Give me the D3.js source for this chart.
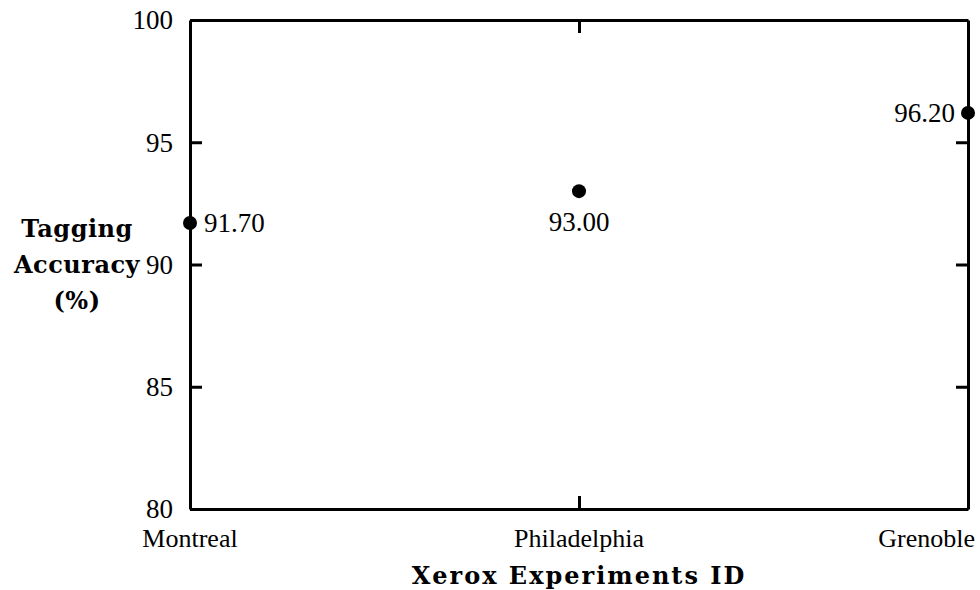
<!DOCTYPE html>
<meta charset="utf-8">
<script src="https://d3js.org/d3.v7.min.js"></script>
<style>
  body { margin: 0; background: #fff; overflow: hidden; }
  text { font-family: "Liberation Serif", serif; fill: #000; }
  .title { font-family: "DejaVu Serif", serif; font-weight: bold; }
</style>
<div id="chart"></div>
<script>

// data
var experiments = ["Montreal", "Philadelphia", "Grenoble"];
var accuracy = [91.70, 93.00, 96.20];
var yTicks = [80, 85, 90, 95, 100];

var width = 980, height = 590;
var margin = {top: 20, right: 12, bottom: 81, left: 190};

var svg = d3.select("#chart")
  .append("svg")
    .attr("width", width)
    .attr("height", height)
    .style("display", "block");

var x = d3.scalePoint()
  .domain(experiments)
  .range([margin.left, width - margin.right]);

var y = d3.scaleLinear()
  .domain([80, 100])
  .range([height - margin.bottom, margin.top]);

//left axis, ticks pointing inward
var yAxisL = svg.append("g")
  .attr("transform", "translate(" + margin.left + ",0)")
  .call(d3.axisLeft(y).tickValues(yTicks).tickSize(-12).tickSizeOuter(0).tickPadding(17)
    .tickFormat(d3.format("d")));
yAxisL.selectAll("text").style("font-size", "27px").attr("dy", "0.33em");

//right axis
svg.append("g")
  .attr("transform", "translate(" + (width - margin.right) + ",0)")
  .call(d3.axisRight(y).tickValues(yTicks).tickSize(-12).tickSizeOuter(0).tickFormat(""));

//top axis, only the middle tick
svg.append("g")
  .attr("transform", "translate(0," + margin.top + ")")
  .call(d3.axisTop(x).tickValues([experiments[1]]).tickSize(-13).tickSizeOuter(0).tickFormat(""));

//bottom axis
svg.append("g")
  .attr("transform", "translate(0," + (height - margin.bottom) + ")")
  .call(d3.axisBottom(x).tickValues([experiments[1]]).tickSize(-13).tickSizeOuter(0).tickFormat(""));

svg.selectAll(".domain").attr("stroke-width", 3);
svg.selectAll(".tick line").attr("stroke-width", 3);

//category labels under the axis (last one pulled in to fit)
svg.selectAll(".cat")
  .data(experiments)
  .enter()
  .append("text")
    .attr("class", "cat")
    .attr("x", function(d, i) { return i == experiments.length - 1 ? width - 5 : x(d); })
    .attr("y", height - margin.bottom + 38)
    .attr("text-anchor", function(d, i) { return i == experiments.length - 1 ? "end" : "middle"; })
    .style("font-size", "26px")
    .text(function(d) { return d; });

//points
svg.selectAll(".dot")
  .data(accuracy)
  .enter()
  .append("circle")
    .attr("class", "dot")
    .attr("cx", function(d, i) { return x(experiments[i]); })
    .attr("cy", function(d) { return y(d); })
    .attr("r", 7)
    .attr("fill", "#000");

//value labels: right of first, below middle, left of last
svg.selectAll(".val")
  .data(accuracy)
  .enter()
  .append("text")
    .attr("class", "val")
    .attr("x", function(d, i) {
      var cx = x(experiments[i]);
      if (i == 0) return cx + 14;
      if (i == experiments.length - 1) return cx - 13;
      return cx;
    })
    .attr("y", function(d, i) {
      var cy = y(d);
      if (i == 0 || i == experiments.length - 1) return cy + 9;
      return cy + 40;
    })
    .attr("text-anchor", function(d, i) {
      if (i == 0) return "start";
      if (i == experiments.length - 1) return "end";
      return "middle";
    })
    .style("font-size", "27px")
    .text(function(d) { return d3.format(".2f")(d); });

//axis titles
svg.append("text")
  .attr("class", "title")
  .attr("x", x(experiments[1]))
  .attr("y", 584)
  .attr("text-anchor", "middle")
  .style("font-size", "24px")
  .style("letter-spacing", "2px")
  .text("Xerox Experiments ID");

var yTitle = svg.append("text")
  .attr("class", "title")
  .attr("text-anchor", "middle")
  .style("font-size", "24px")
  .style("letter-spacing", "0.5px");
["Tagging", "Accuracy", "(%)"].forEach(function(t, i) {
  yTitle.append("tspan").attr("x", 77).attr("y", 237 + i * 36).text(t);
});

</script>
